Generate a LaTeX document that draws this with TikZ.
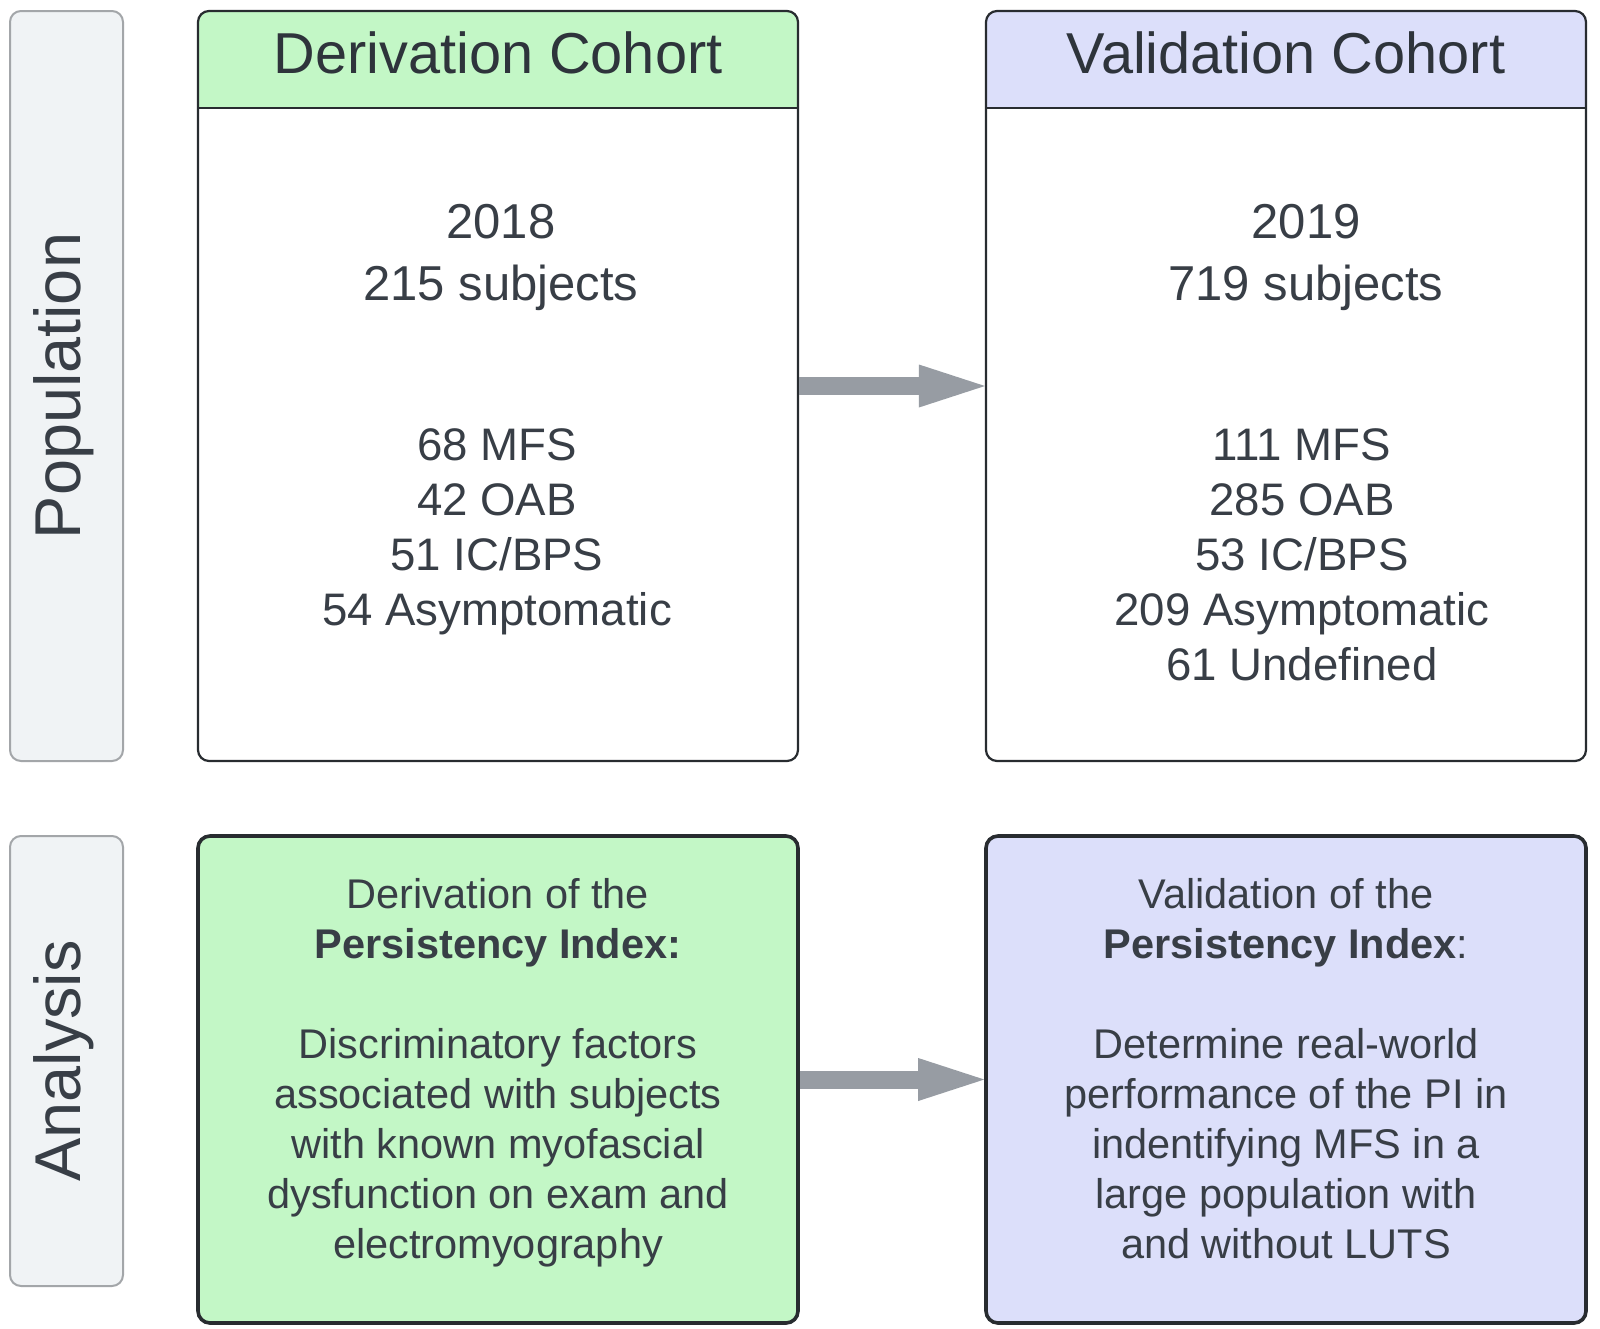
\documentclass[tikz,border=0pt]{standalone}
\usepackage{fontspec}
\setmainfont{Liberation Sans}
\usetikzlibrary{calc,arrows.meta}
\definecolor{textc}{HTML}{383E46}
\definecolor{titlec}{HTML}{2E343B}
\definecolor{greenc}{HTML}{C3F7C6}
\definecolor{lavc}{HTML}{DCDFFA}
\definecolor{sidefill}{HTML}{F0F3F5}
\definecolor{sideline}{HTML}{A3A6A9}
\definecolor{boxline}{HTML}{282C30}
\definecolor{arrowc}{HTML}{979CA3}
\begin{document}
\begin{tikzpicture}[x=1pt,y=-1pt,
  sidebox/.style={draw=sideline, fill=sidefill, line width=2pt, rounded corners=11pt, inner sep=0pt},
  sidelabel/.style={text=textc, inner sep=0pt, font=\fontsize{64.8pt}{70pt}\selectfont},
  cohortbox/.style={draw=boxline, line width=2.2pt, rounded corners=11pt, inner sep=0pt},
  analysisbox/.style={draw=boxline, line width=3.6pt, rounded corners=12pt, inner sep=0pt},
  titletext/.style={text=titlec, inner sep=0pt, font=\fontsize{57.7pt}{65pt}\selectfont},
  yeartext/.style={text=textc, inner sep=0pt, align=center, font=\fontsize{49pt}{61.5pt}\selectfont},
  listtext/.style={text=textc, inner sep=0pt, align=center, font=\fontsize{45.6pt}{55pt}\selectfont},
  antext/.style={text=textc, inner sep=0pt, align=center, font=\fontsize{41.5pt}{50pt}\selectfont},
  bigarrow/.style={draw=arrowc, line width=18pt, -{Triangle[length=66pt,width=43pt,line width=0pt]}}
]
\useasboundingbox (0,0) rectangle (1600,1328);
\fill[white] (0,0) rectangle (1600,1328);

% side labels
\node[sidebox, minimum width=113pt, minimum height=750pt] (pop) at (66.5,386) {};
\node[sidelabel, anchor=base, rotate=90] (poplabel) at (80,386) {Population};
\node[sidebox, minimum width=113pt, minimum height=450pt] (ana) at (66.5,1061) {};
\node[sidelabel, anchor=base, rotate=90] (analabel) at (80,1061) {Analysis};

% header fills
\begin{scope}
  \clip (198,11) rectangle (798,108);
  \fill[greenc, rounded corners=11pt] (198,11) rectangle (798,761);
\end{scope}
\begin{scope}
  \clip (986,11) rectangle (1586,108);
  \fill[lavc, rounded corners=11pt] (986,11) rectangle (1586,761);
\end{scope}

% cohort boxes
\node[cohortbox, minimum width=600pt, minimum height=750pt] (der) at (498,386) {};
\node[cohortbox, minimum width=600pt, minimum height=750pt] (val) at (1286,386) {};
\draw[draw=boxline, line width=2.2pt] (198,108) -- (798,108);
\draw[draw=boxline, line width=2.2pt] (986,108) -- (1586,108);

\node[titletext, anchor=base] (dertitle) at (498,73) {Derivation Cohort};
\node[titletext, anchor=base] (valtitle) at (1286,73) {Validation Cohort};

% multi-line nodes: base anchor = baseline of last line
\node[yeartext, anchor=base] (deryear) at (501,300) {2018\\215 subjects};
\node[yeartext, anchor=base] (valyear) at (1306,300) {2019\\719 subjects};

\node[listtext, anchor=base] (derlist) at (497,625) {68 MFS\\42 OAB\\51 IC/BPS\\54 Asymptomatic};
\node[listtext, anchor=base] (vallist) at (1302,680) {111 MFS\\285 OAB\\53 IC/BPS\\209 Asymptomatic\\61 Undefined};

% analysis boxes
\node[analysisbox, fill=greenc, minimum width=600pt, minimum height=487pt] (dera) at (498,1079.5) {};
\node[analysisbox, fill=lavc, minimum width=600pt, minimum height=487pt] (vala) at (1286,1079.5) {};

\node[antext, anchor=base] (deratext) at (498,1258) {Derivation of the\\\textbf{Persistency Index:}\\[50pt]Discriminatory factors\\associated with subjects\\with known myofascial\\dysfunction on exam and\\electromyography};
\node[antext, anchor=base] (valatext) at (1286,1258) {Validation of the\\\textbf{Persistency Index}:\\[50pt]Determine real-world\\performance of the PI in\\indentifying MFS in a\\large population with\\and without LUTS};

% arrows
\draw[bigarrow] (der) -- (val);
\draw[bigarrow] (dera) -- (vala);
\end{tikzpicture}
\end{document}
